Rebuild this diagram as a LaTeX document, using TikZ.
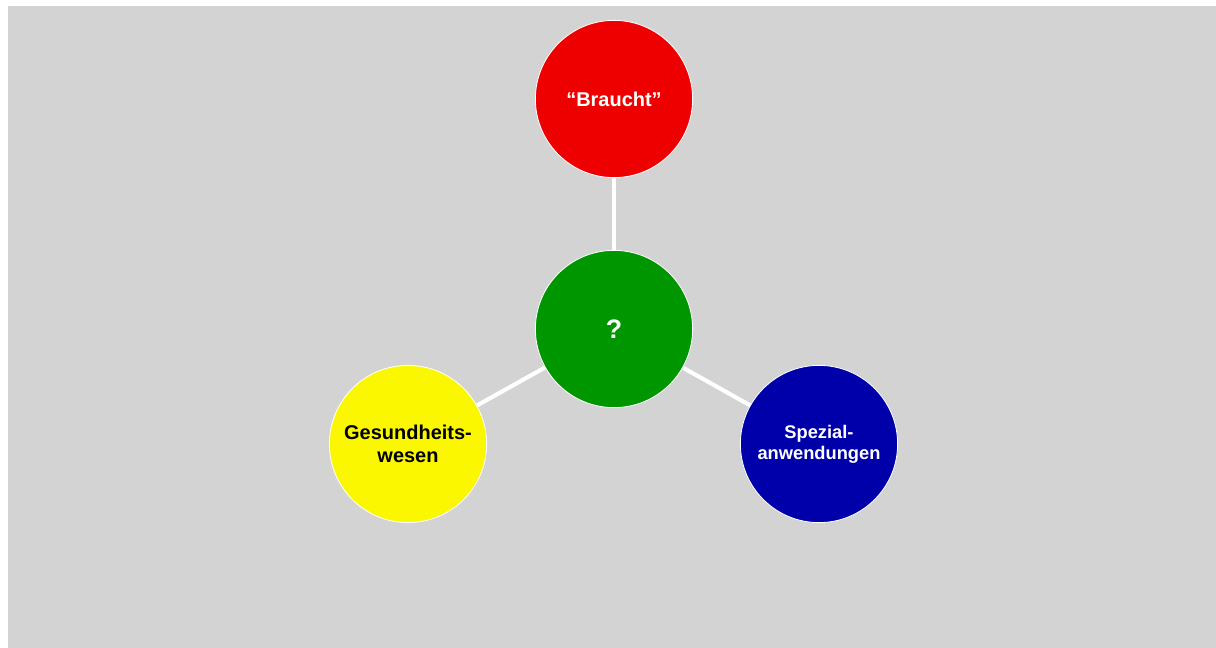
\documentclass[tikz,border=0pt]{standalone}
\usepackage{fontspec}
\setmainfont{Liberation Sans}
\definecolor{bggrey}{HTML}{D3D3D3}
\definecolor{topred}{HTML}{EE0000}
\definecolor{midgreen}{HTML}{009600}
\definecolor{leftyellow}{HTML}{FAF700}
\definecolor{rightblue}{HTML}{0000AA}

\begin{document}
\begin{tikzpicture}[
    x=0.025cm, y=-0.025cm,
    every node/.style={circle, draw=white, line width=0.6pt, minimum size=3.93cm, align=center, text=white, font=\bfseries\fontsize{14.2}{16.4}\selectfont},
    link/.style={draw=white, line width=2.9pt}
]
\useasboundingbox (0,0) rectangle (1216,648);
\fill[bggrey] (8,6) rectangle (1216,648);

\node (center_q) [fill=midgreen, font=\bfseries\fontsize{19}{22}\selectfont] at (614,329) {?};
\node (braucht) [fill=topred] at (614,99) {``Braucht''};
\node (gesundheit) [fill=leftyellow, text=black] at (408,444) {Gesundheits-\\wesen};
\node (spezial) [fill=rightblue, font=\bfseries\fontsize{13}{15}\selectfont] at (819,444) {Spezial-\\anwendungen};

\draw[link] (braucht) -- (center_q);
\draw[link] (gesundheit) -- (center_q);
\draw[link] (spezial) -- (center_q);
\end{tikzpicture}
\end{document}
